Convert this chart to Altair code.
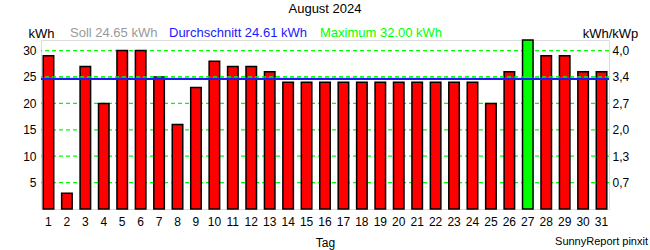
import altair as alt
import pandas as pd

# ---- data ----
days = list(range(1, 32))
kwh = [29, 3, 27, 20, 30, 30, 25, 16, 23, 28, 27, 27, 26, 24, 24, 24, 24, 24,
       24, 24, 24, 24, 24, 24, 20, 26, 32, 29, 29, 26, 26]
soll_value = 24.65
grid_values = [5, 10, 15, 20, 25, 30]
left_tick_values = [5, 10, 15, 20, 25, 30]
right_tick_labels = ["0,7", "1,3", "2,0", "2,7", "3,4", "4,0"]
title_text = "August 2024"
legend_soll = "Soll 24.65 kWh"
legend_avg = "Durchschnitt 24.61 kWh"
legend_max = "Maximum 32.00 kWh"
footer_text = "SunnyReport pinxit"

FONT = "Liberation Sans"
W, H = 568, 169
ydom = [0, 32]

df = pd.DataFrame({"Tag": days, "kWh": kwh})
grid_df = pd.DataFrame({"v": grid_values})

label_map = {str(v): lab for v, lab in zip(left_tick_values, right_tick_labels)}
label_expr = "{" + ",".join(f"'{k}':'{v}'" for k, v in label_map.items()) + "}[datum.value]"

yscale = alt.Scale(domain=ydom, nice=False, zero=True)
xenc = alt.X("Tag:O", scale=alt.Scale(paddingInner=0.43, paddingOuter=0.12),
             axis=alt.Axis(labelAngle=0, ticks=False, domain=False, labelPadding=7,
                           labelFontSize=12, labelColor="black", title="Tag",
                           titleFontSize=12, titleFontWeight="normal", titleColor="black",
                           titlePadding=10))

base = alt.Chart(df)

grid_back = alt.Chart(grid_df).mark_rule(color="#00ff00", strokeDash=[4, 3], strokeWidth=1.2).encode(
    y=alt.Y("v:Q", scale=yscale, axis=None)
)

bars = base.mark_bar(stroke="black", strokeWidth=1.5).transform_joinaggregate(
    maxv="max(kWh)"
).encode(
    x=xenc,
    y=alt.Y("kWh:Q", scale=yscale,
            axis=alt.Axis(orient="left", values=left_tick_values, tickSize=0, ticks=False,
                          domain=False, grid=False, labelPadding=5, labelFontSize=12,
                          labelColor="black", title="kWh", titleAngle=0, titleAlign="center",
                          titleBaseline="alphabetic", titleX=0, titleY=-3, titleFontSize=13,
                          titleFontWeight="normal", titleColor="black")),
    color=alt.condition("datum.kWh == datum.maxv", alt.value("#00ff00"), alt.value("#ff0000")),
)

grid_front = alt.Chart(grid_df).transform_filter("datum.v == 25").mark_rule(
    color="#00ff00", strokeDash=[4, 3], strokeWidth=1.2
).encode(y=alt.Y("v:Q", scale=yscale, axis=None))

right_axis = alt.Chart(grid_df).mark_rule(opacity=0).encode(
    y=alt.Y("v:Q", scale=yscale,
            axis=alt.Axis(orient="right", values=left_tick_values, ticks=False, tickSize=0,
                          domain=False, grid=False, labelPadding=3, labelFontSize=12,
                          labelColor="black", labelExpr=label_expr, title="kWh/kWp",
                          titleAngle=0, titleAlign="center", titleBaseline="alphabetic",
                          titleX=1, titleY=-3, titleFontSize=13, titleFontWeight="normal",
                          titleColor="black"))
)

soll_rule = alt.Chart(pd.DataFrame({"s": [soll_value]})).mark_rule(
    color="#a0a0a0", strokeWidth=2
).encode(y=alt.Y("s:Q", scale=yscale, axis=None))

avg_rule = base.mark_rule(color="#1a1aff", strokeWidth=2).encode(
    y=alt.Y("mean(kWh):Q", scale=yscale, axis=None)
)


def label(text, x, y, color, size=13, align="left"):
    return alt.Chart(alt.Data(values=[{}])).mark_text(
        text=text, color=color, fontSize=size, align=align, baseline="alphabetic", font=FONT
    ).encode(x=alt.value(x), y=alt.value(y))


t_title = label(title_text, W / 2, -27, "black", 13, "center")
t_soll = label(legend_soll, 29, -3, "#999999")
t_avg = label(legend_avg, 128, -3, "#1a1aff")
t_max = label(legend_max, 279, -3, "#00ff00")
t_foot = label(footer_text, 607, 205, "black", 11, "right")

chart = alt.layer(
    grid_back, bars, grid_front, right_axis, soll_rule, avg_rule,
    t_title, t_soll, t_avg, t_max, t_foot
).resolve_axis(y="independent").properties(
    width=W, height=H,
    autosize=alt.AutoSizeParams(type="none"),
    padding={"left": 41, "top": 40, "right": 41, "bottom": 41},
    background="white",
).configure_view(
    stroke="black", strokeWidth=1.5
).configure(font=FONT)

chart.save("out.html", embed_options={"renderer": "svg", "actions": False})
